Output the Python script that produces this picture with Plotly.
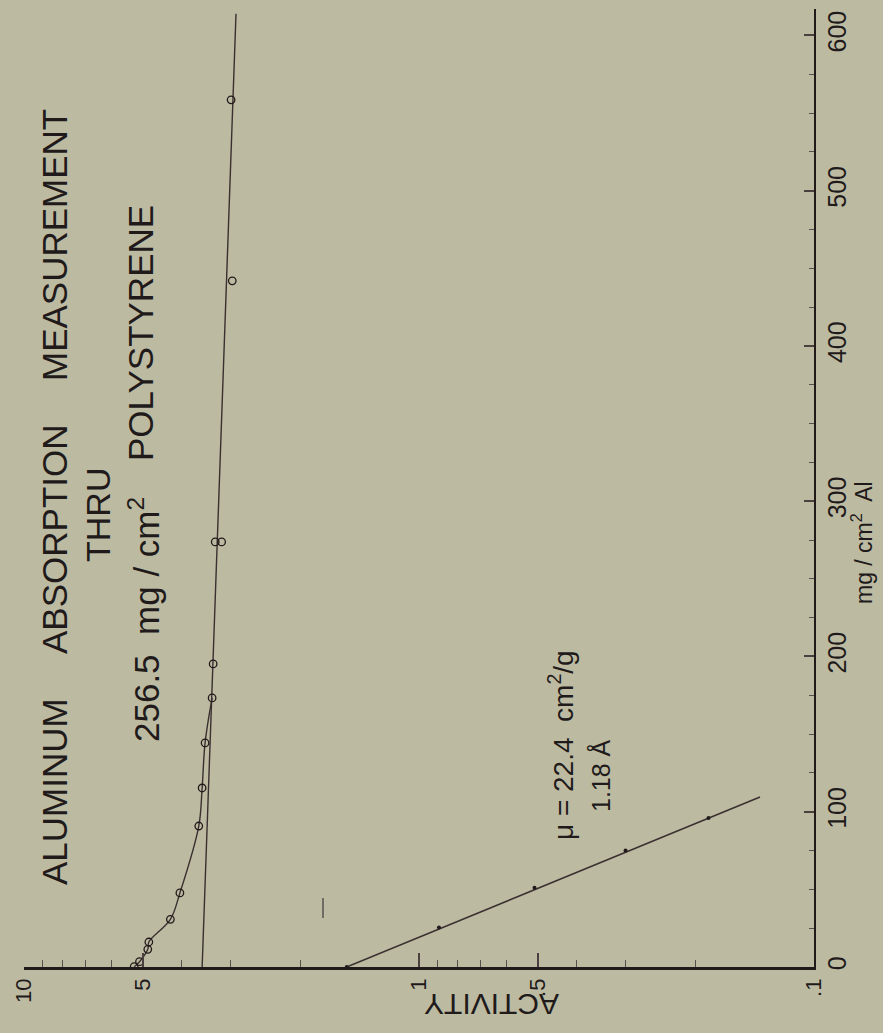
import plotly.graph_objects as go

# ---------------- data ----------------
# measured points: thickness of Al (mg/cm^2) and activity
al_thickness = [0.2, 3.4, 11.4, 16.1, 30.7, 47.7, 90.8, 115.3, 144.3, 173.3, 195.2, 273.8, 273.8, 441.9, 558.5]
activity = [5.26, 5.10, 4.86, 4.83, 4.26, 4.03, 3.61, 3.54, 3.48, 3.34, 3.32, 3.28, 3.16, 2.97, 2.99]

# smooth curve through the low-thickness points
curve_thickness = [0.2, 3.4, 11.4, 16.1, 30.7, 47.7, 90.8, 115.3, 144.3, 173.3]
curve_activity = [5.26, 5.10, 4.86, 4.83, 4.26, 4.03, 3.61, 3.54, 3.48, 3.34]

# straight fitted line through the hard component
hard_line_thickness = [0, 614]
hard_line_activity = [3.54, 2.906]

# soft component line (mu = 22.4 cm^2/g)
soft_line_thickness = [0, 109.5]
soft_line_activity = [1.524, 0.137]
soft_points_thickness = [0, 25.5, 51, 75, 96]
soft_points_activity = [1.524, 0.89, 0.51, 0.30, 0.185]

# short vertical mark drawn on the sheet
mark_activity = [1.75, 1.75]
mark_thickness = [31.6, 44.4]

# axis ticks
act_tickvals = [10, 5, 1, 0.5, 0.1]
act_ticktext = ["10", "5", "1", ".5", ".1"]
act_minor = [9, 8, 7, 6, 4, 3, 2, 0.9, 0.8, 0.7, 0.6, 0.4, 0.3, 0.2]
al_tickvals = [0, 100, 200, 300, 400, 500, 600]

INK = "#211a1a"
LINE = "#3a3030"
BG = "#bdbaa2"
FONT = "Liberation Sans"

fig = go.Figure()

fig.add_trace(go.Scatter(x=hard_line_activity, y=hard_line_thickness, mode="lines",
                         line=dict(color=LINE, width=1.4), showlegend=False, hoverinfo="skip"))
fig.add_trace(go.Scatter(x=curve_activity, y=curve_thickness, mode="lines",
                         line=dict(color=LINE, width=1.4, shape="spline", smoothing=1.0),
                         showlegend=False, hoverinfo="skip"))
fig.add_trace(go.Scatter(x=activity, y=al_thickness, mode="markers",
                         marker=dict(symbol="circle-open", size=7.5, color=INK, line=dict(width=1.3)),
                         showlegend=False))
fig.add_trace(go.Scatter(x=soft_line_activity, y=soft_line_thickness, mode="lines",
                         line=dict(color=LINE, width=1.5), showlegend=False, hoverinfo="skip"))
fig.add_trace(go.Scatter(x=soft_points_activity, y=soft_points_thickness, mode="markers",
                         marker=dict(symbol="circle", size=4, color=INK), showlegend=False))
fig.add_trace(go.Scatter(x=mark_activity, y=mark_thickness, mode="lines",
                         line=dict(color="#5a5050", width=1.5), showlegend=False, hoverinfo="skip"))

def txt(s, x, y, size, angle=-90):
    fig.add_annotation(text=s, x=x, y=y, xref="paper", yref="paper", showarrow=False,
                       textangle=angle, font=dict(family=FONT, size=size, color=INK),
                       xanchor="center", yanchor="middle")

# Plot area: left 24, right 814, top 9, bottom 967 (px)
def px(xp):
    return (xp - 24) / 790.0

def py(yp):
    return (967 - yp) / 958.0

txt("ALUMINUM", px(54), py(792), 35)
txt("ABSORPTION", px(54), py(540), 35)
txt("MEASUREMENT", px(54), py(245), 35)
txt("THRU", px(98), py(515), 34)
txt("256.5  mg / cm<sup>2</sup>", px(144), py(620), 35)
txt("POLYSTYRENE", px(141), py(333), 35)
txt("\u03bc = 22.4  cm<sup>2</sup>/g", px(561), py(745), 28)
txt("1.18 \u00c5", px(600), py(776), 25)
txt("mg / cm<sup>2</sup>  Al", px(862), py(543), 23)
txt("ACTIVITY", px(492), py(1004), 30, angle=180)

fig.update_layout(
    width=883, height=1033, autosize=False,
    margin=dict(l=24, r=69, t=9, b=66, pad=0),
    paper_bgcolor=BG, plot_bgcolor=BG,
    showlegend=False,
    xaxis=dict(type="log", range=[1, -1], showgrid=False, zeroline=False,
               showline=True, linecolor=INK, linewidth=2.5,
               ticks="inside", ticklen=14, tickwidth=1.5, tickcolor="#4a4040",
               tickvals=act_tickvals, ticktext=act_ticktext, tickangle=-90,
               tickfont=dict(family=FONT, size=22, color=INK),
               minor=dict(ticks="inside", ticklen=7, tickwidth=1.2, tickcolor="#5a5050",
                          tickvals=act_minor, showgrid=False)),
    yaxis=dict(range=[0, 617], side="right", showgrid=False, zeroline=False,
               showline=True, linecolor=INK, linewidth=2,
               ticks="inside", ticklen=10, tickwidth=1.5, tickcolor="#4a4040",
               tickvals=al_tickvals, tickangle=-90,
               tickfont=dict(family=FONT, size=25, color=INK),
               minor=dict(ticks="inside", ticklen=5, tickwidth=1.2, tickcolor="#5a5050",
                          dtick=25, tick0=0, showgrid=False)),
)

fig.write_html("out.html")
